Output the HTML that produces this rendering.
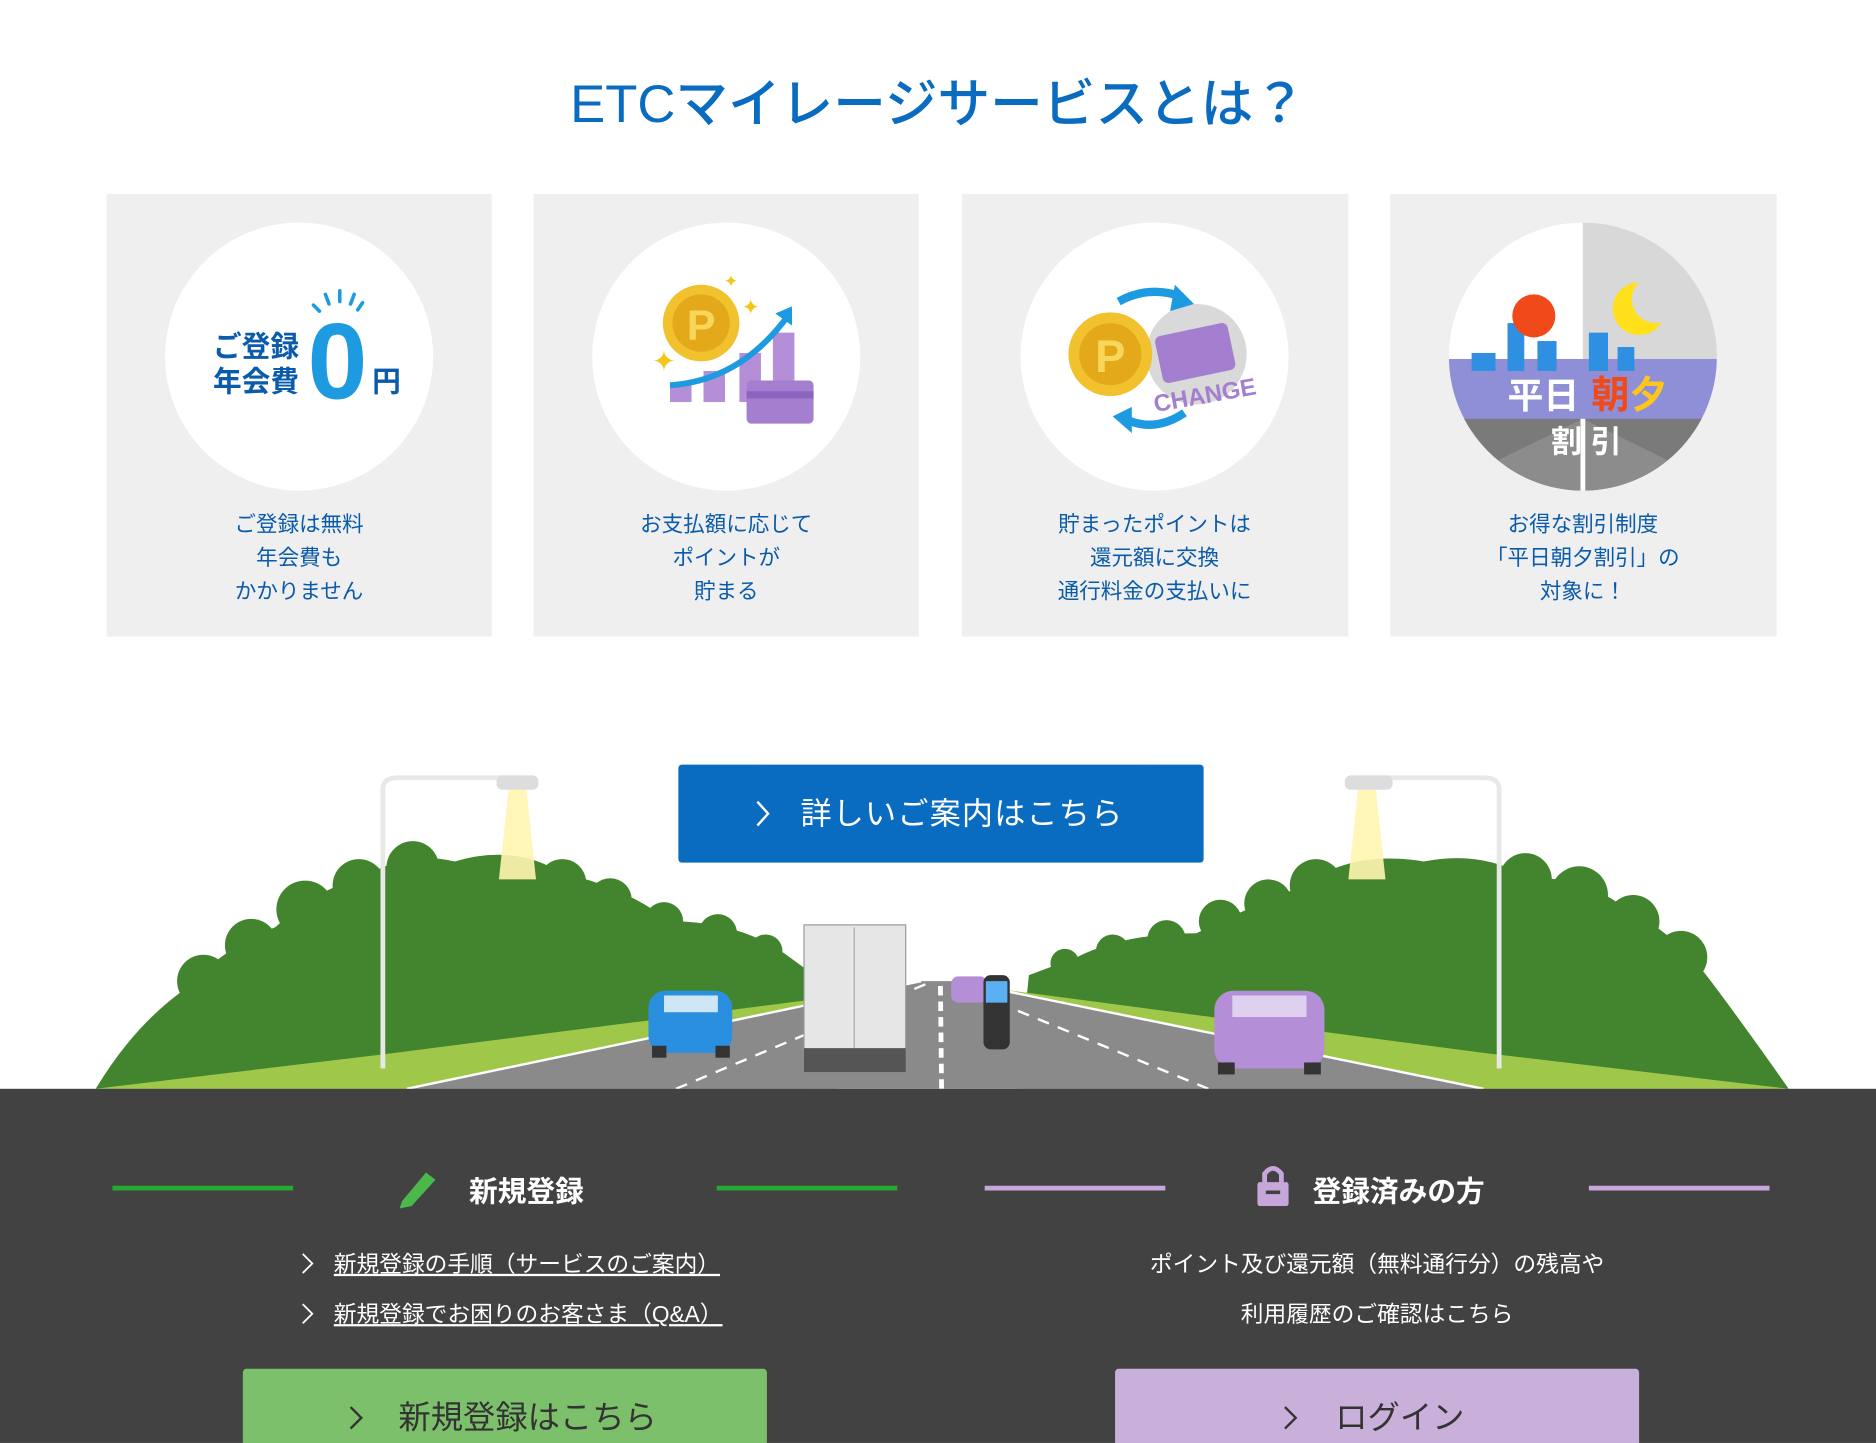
<!DOCTYPE html>
<html><head><meta charset="utf-8"><style>html,body{margin:0;padding:0;background:#fff}svg{display:block}</style></head><body>
<svg width="1876" height="1443" viewBox="0 0 1568 1206" xmlns="http://www.w3.org/2000/svg" style="font-family:'Liberation Sans','Noto Sans CJK JP',sans-serif">
<rect width="1568" height="1206" fill="#fff"/>
<text x="784" y="102" text-anchor="middle" font-size="44" font-weight="500" fill="#0a6cc0">ETCマイレージサービスとは？</text>
<g fill="#efefef"><rect x="89" y="162" width="322" height="370"/><rect x="446" y="162" width="322" height="370"/><rect x="804" y="162" width="323" height="370"/><rect x="1162" y="162" width="323" height="370"/></g>
<g fill="#fff"><circle cx="250" cy="298" r="112"/><circle cx="607" cy="298" r="112"/><circle cx="965" cy="298" r="112"/></g>
<text x="214" y="298" text-anchor="middle" font-size="24" font-weight="bold" fill="#0a5bab">ご登録</text>
<text x="214" y="327" text-anchor="middle" font-size="24" font-weight="bold" fill="#0a5bab">年会費</text>
<text x="282" y="333" text-anchor="middle" font-size="90" font-weight="bold" fill="#1e9be0">0</text>
<text x="323" y="327" text-anchor="middle" font-size="24" font-weight="bold" fill="#0a5bab">円</text>
<g stroke="#1e9be0" stroke-width="3" stroke-linecap="round"><line x1="262" y1="255" x2="267" y2="260"/><line x1="272" y1="246" x2="275" y2="254"/><line x1="284" y1="243" x2="284" y2="252"/><line x1="296" y1="246" x2="293" y2="254"/><line x1="303" y1="253" x2="299" y2="259"/></g>
<g fill="#b48fd8"><rect x="560" y="322" width="18" height="14"/><rect x="588" y="310" width="18" height="26"/><rect x="618" y="295" width="18" height="41"/><rect x="646" y="278" width="18" height="58"/></g>
<rect x="624" y="318" width="56" height="36" rx="4" fill="#a57fcf"/><rect x="624" y="327" width="56" height="6" fill="#8c63bd"/>
<circle cx="586" cy="270" r="32" fill="#f2c12e"/><circle cx="586" cy="270" r="24" fill="#e4a91a"/><text x="586" y="284" text-anchor="middle" font-size="36" font-weight="bold" fill="#f7d65a">P</text>
<path d="M560 322 Q620 318 660 262" stroke="#1e9be0" stroke-width="5" fill="none"/><polygon points="648,262 662,256 662,272" fill="#1e9be0"/>
<text x="545" y="310" font-size="24" fill="#f5c518">✦</text><text x="620" y="263" font-size="18" fill="#f5c518">✦</text><text x="605" y="240" font-size="14" fill="#f5c518">✦</text>
<circle cx="1000" cy="296" r="42" fill="#d9d9d9"/>
<rect x="968" y="275" width="62" height="40" rx="5" fill="#a57fcf" transform="rotate(-12 999 295)"/>
<text x="1007" y="337" text-anchor="middle" font-size="20" font-weight="bold" fill="#a57fcf" transform="rotate(-10 1007 330)">CHANGE</text>
<circle cx="928" cy="296" r="35" fill="#f2c12e"/><circle cx="928" cy="296" r="26" fill="#e4a91a"/><text x="928" y="311" text-anchor="middle" font-size="38" font-weight="bold" fill="#f7d65a">P</text>
<path d="M935 252 Q960 238 988 248" stroke="#1e9be0" stroke-width="7" fill="none"/><polygon points="982,238 998,254 978,260" fill="#1e9be0"/>
<path d="M990 345 Q965 362 940 350" stroke="#1e9be0" stroke-width="7" fill="none"/><polygon points="946,340 930,348 946,362" fill="#1e9be0"/>
<defs><clipPath id="c4"><circle cx="1323" cy="298" r="112"/></clipPath></defs>
<g clip-path="url(#c4)">
<rect x="1211" y="186" width="112" height="224" fill="#fff"/><rect x="1323" y="186" width="112" height="224" fill="#d8d8d8"/>
<rect x="1211" y="300" width="224" height="60" fill="#8f8fd8"/>
<g fill="#2f8fe0"><rect x="1260" y="270" width="14" height="40"/><rect x="1285" y="285" width="16" height="25"/><rect x="1328" y="278" width="16" height="32"/><rect x="1352" y="290" width="14" height="20"/><rect x="1230" y="295" width="20" height="15"/></g>
<rect x="1211" y="350" width="224" height="60" fill="#7a7a7a"/>
<polygon points="1323,350 1200,410 1446,410" fill="#8c8c8c"/>
<rect x="1321" y="350" width="4" height="60" fill="#fff"/>
</g>
<circle cx="1282" cy="264" r="18" fill="#f04a1a"/><circle cx="1370" cy="258" r="22" fill="#ffe01a"/><circle cx="1384" cy="250" r="20" fill="#d8d8d8"/>
<text x="1290" y="341" text-anchor="middle" font-size="30" font-weight="bold" fill="#fff">平日</text>
<text x="1346" y="341" text-anchor="middle" font-size="32" font-weight="bold" fill="#f04a1a">朝</text><text x="1378" y="341" text-anchor="middle" font-size="32" font-weight="bold" fill="#ffc61a">夕</text>
<text x="1326" y="378" text-anchor="middle" font-size="26" font-weight="bold" fill="#fff">割 引</text>
<g font-size="18" fill="#0a5bab" text-anchor="middle">
<text x="250" y="444">ご登録は無料</text><text x="250" y="472">年会費も</text><text x="250" y="500">かかりません</text>
<text x="607" y="444">お支払額に応じて</text><text x="607" y="472">ポイントが</text><text x="607" y="500">貯まる</text>
<text x="965" y="444">貯まったポイントは</text><text x="965" y="472">還元額に交換</text><text x="965" y="500">通行料金の支払いに</text>
<text x="1323" y="444">お得な割引制度</text><text x="1323" y="472">「平日朝夕割引」の</text><text x="1323" y="500">対象に！</text>
</g>
<g fill="#43852e">
<path d="M80 910 Q110 860 150 830 Q190 790 230 775 Q270 740 300 735 Q340 710 380 720 Q430 705 470 730 Q520 740 560 770 Q620 770 660 800 L690 822 L700 910 Z"/>
<path d="M1495 910 Q1460 860 1430 820 Q1400 780 1360 760 Q1320 730 1280 735 Q1240 710 1190 720 Q1130 710 1090 740 Q1040 760 1000 780 Q940 780 900 800 L860 815 L850 910 Z"/>
<circle cx="170" cy="820" r="22"/><circle cx="210" cy="790" r="22"/><circle cx="255" cy="760" r="24"/><circle cx="300" cy="740" r="22"/><circle cx="345" cy="725" r="22"/><circle cx="470" cy="738" r="20"/><circle cx="510" cy="752" r="18"/><circle cx="555" cy="770" r="16"/><circle cx="600" cy="780" r="16"/><circle cx="640" cy="795" r="14"/>
<circle cx="1405" cy="800" r="22"/><circle cx="1365" cy="770" r="22"/><circle cx="1320" cy="748" r="24"/><circle cx="1275" cy="735" r="22"/><circle cx="1100" cy="740" r="22"/><circle cx="1060" cy="755" r="20"/><circle cx="1020" cy="770" r="18"/><circle cx="975" cy="785" r="16"/><circle cx="930" cy="795" r="14"/><circle cx="890" cy="805" r="12"/>
</g>
<path d="M80 910 L330 880 L760 825 L780 822 L680 910Z" fill="#9fc84a"/>
<path d="M1495 910 L1240 880 L800 822 L820 822 L900 910Z" fill="#9fc84a"/>
<polygon points="340,910 770,820 800,820 1240,910" fill="#8a8a8a"/>
<g stroke="#fff" stroke-width="2" stroke-dasharray="10 8"><line x1="565" y1="910" x2="775" y2="822"/><line x1="1010" y1="910" x2="795" y2="822"/></g>
<line x1="787" y1="910" x2="786" y2="822" stroke="#fff" stroke-width="4" stroke-dasharray="8 5"/>
<g stroke="#fff" stroke-width="2"><line x1="340" y1="910" x2="770" y2="820"/><line x1="1240" y1="910" x2="800" y2="820"/></g>
<polygon points="425,660 440,660 448,735 417,735" fill="#fff5b0" opacity=".9"/>
<polygon points="1135,660 1150,660 1158,735 1127,735" fill="#fff5b0" opacity=".9"/>
<path d="M320 893 L320 660 Q320 650 332 650 L440 650" stroke="#e8e8e8" stroke-width="4" fill="none"/><rect x="415" y="648" width="35" height="12" rx="5" fill="#ddd"/>
<path d="M1253 893 L1253 660 Q1253 650 1241 650 L1135 650" stroke="#e8e8e8" stroke-width="4" fill="none"/><rect x="1124" y="648" width="40" height="12" rx="5" fill="#ddd"/>
<rect x="672" y="773" width="85" height="105" fill="#e6e6e6" stroke="#999"/><line x1="714" y1="775" x2="714" y2="876" stroke="#aaa"/><rect x="672" y="876" width="85" height="20" fill="#555"/>
<rect x="542" y="828" width="70" height="52" rx="14" fill="#2b8fe0"/><rect x="555" y="832" width="45" height="14" fill="#cfe6f7"/><rect x="545" y="874" width="12" height="10" fill="#333"/><rect x="598" y="874" width="12" height="10" fill="#333"/>
<rect x="1015" y="828" width="92" height="65" rx="16" fill="#b48fd8"/><rect x="1030" y="832" width="62" height="18" fill="#ded0ee"/><rect x="1018" y="888" width="14" height="10" fill="#333"/><rect x="1090" y="888" width="14" height="10" fill="#333"/>
<rect x="795" y="816" width="30" height="22" rx="6" fill="#b48fd8"/>
<rect x="822" y="815" width="22" height="62" rx="6" fill="#333"/><rect x="824" y="820" width="18" height="18" fill="#5ab0f0"/>
<rect x="567" y="639" width="439" height="82" rx="3" fill="#0a6cc0"/>
<path d="M633 670 L642 680 L633 690" stroke="#fff" stroke-width="2" fill="none"/>
<text x="804" y="689" text-anchor="middle" font-size="26" fill="#fff" letter-spacing="1">詳しいご案内はこちら</text>
<rect x="0" y="910" width="1568" height="296" fill="#424242"/>
<g stroke-width="4"><line x1="94" y1="993" x2="245" y2="993" stroke="#28a830"/><line x1="599" y1="993" x2="750" y2="993" stroke="#28a830"/><line x1="823" y1="993" x2="974" y2="993" stroke="#c7a6db"/><line x1="1328" y1="993" x2="1479" y2="993" stroke="#c7a6db"/></g>
<path d="M336 1004 L356 980 L364 986 L344 1008 L334 1010Z" fill="#4cb84a"/>
<text x="440" y="1004" text-anchor="middle" font-size="24" font-weight="bold" fill="#fff">新規登録</text>
<rect x="1051" y="988" width="26" height="20" rx="2" fill="#c7a6db"/><path d="M1057 989 V981 Q1064 972 1071 981 V989" stroke="#c7a6db" stroke-width="4" fill="none"/><rect x="1058" y="995" width="12" height="3" fill="#424242"/>
<text x="1169" y="1004" text-anchor="middle" font-size="24" font-weight="bold" fill="#fff">登録済みの方</text>
<g stroke="#fff" stroke-width="1.5" fill="none"><path d="M253 1048 L261 1056 L253 1064"/><path d="M253 1090 L261 1098 L253 1106"/></g>
<g font-size="19" fill="#fff"><text x="279" y="1063" text-decoration="underline">新規登録の手順（サービスのご案内）</text><text x="279" y="1105" text-decoration="underline">新規登録でお困りのお客さま（Q&amp;A）</text></g>
<g font-size="19" fill="#fff" text-anchor="middle"><text x="1151" y="1063">ポイント及び還元額（無料通行分）の残高や</text><text x="1151" y="1105">利用履歴のご確認はこちら</text></g>
<rect x="203" y="1144" width="438" height="70" rx="3" fill="#7dc06b"/>
<path d="M293 1176 L302 1185 L293 1194" stroke="#333" stroke-width="2" fill="none"/>
<text x="441" y="1194" text-anchor="middle" font-size="27" fill="#333">新規登録はこちら</text>
<rect x="932" y="1144" width="438" height="70" rx="3" fill="#c9b0da"/>
<path d="M1074 1176 L1083 1185 L1074 1194" stroke="#333" stroke-width="2" fill="none"/>
<text x="1170" y="1194" text-anchor="middle" font-size="27" fill="#333">ログイン</text>
</svg>
</body></html>
